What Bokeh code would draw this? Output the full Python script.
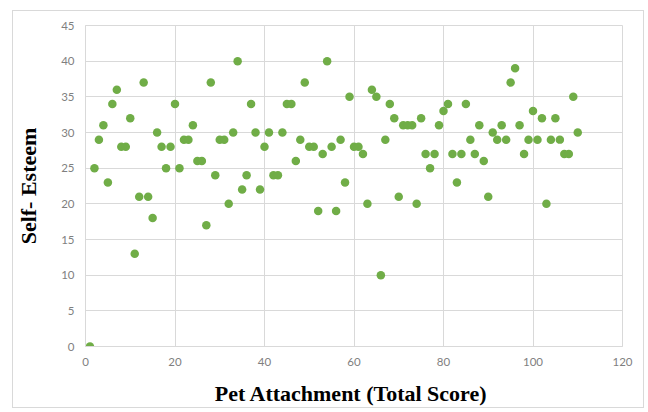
from bokeh.plotting import figure
from bokeh.models import FixedTicker, Range1d
from bokeh.embed import file_html
from bokeh.resources import INLINE

pet_attachment = [
    1, 2, 3, 4, 5, 6, 7, 8, 9, 10,
    11, 12, 13, 14, 15, 16, 17, 18, 19, 20,
    21, 22, 23, 24, 25, 26, 27, 28, 29, 30,
    31, 32, 33, 34, 35, 36, 37, 38, 39, 40,
    41, 42, 43, 44, 45, 46, 47, 48, 49, 50,
    51, 52, 53, 54, 55, 56, 57, 58, 59, 60,
    61, 62, 63, 64, 65, 66, 67, 68, 69, 70,
    71, 72, 73, 74, 75, 76, 77, 78, 79, 80,
    81, 82, 83, 84, 85, 86, 87, 88, 89, 90,
    91, 92, 93, 94, 95, 96, 97, 98, 99, 100,
    101, 102, 103, 104, 105, 106, 107, 108, 109, 110,
]
self_esteem = [
    0, 25, 29, 31, 23, 34, 36, 28, 28, 32,
    13, 21, 37, 21, 18, 30, 28, 25, 28, 34,
    25, 29, 29, 31, 26, 26, 17, 37, 24, 29,
    29, 20, 30, 40, 22, 24, 34, 30, 22, 28,
    30, 24, 24, 30, 34, 34, 26, 29, 37, 28,
    28, 19, 27, 40, 28, 19, 29, 23, 35, 28,
    28, 27, 20, 36, 35, 10, 29, 34, 32, 21,
    31, 31, 31, 20, 32, 27, 25, 27, 31, 33,
    34, 27, 23, 27, 34, 29, 27, 31, 26, 21,
    30, 29, 31, 29, 37, 39, 31, 27, 29, 33,
    29, 32, 20, 29, 32, 29, 27, 27, 35, 30,
]
x_ticks = [0, 20, 40, 60, 80, 100, 120]
y_ticks = [0, 5, 10, 15, 20, 25, 30, 35, 40, 45]

GRID = "#d9d9d9"
LABEL = "#7f7f7f"

p = figure(
    width=632, height=398,
    output_backend="svg", toolbar_location=None,
    x_range=Range1d(0, 120), y_range=Range1d(0, 45),
    min_border_left=71, min_border_right=23,
    min_border_top=14, min_border_bottom=63,
)
p.margin = (10, 0, 0, 12)
p.styles = {"border": "1px solid #d9d9d9"}
p.outline_line_color = GRID
p.background_fill_color = "white"
p.border_fill_color = "white"

p.scatter(pet_attachment, self_esteem, size=8.5, fill_color="#70ad47",
          line_color=None)

for ax in (p.xaxis[0], p.yaxis[0]):
    ax.major_tick_out = 0
    ax.major_tick_in = 0
    ax.minor_tick_out = 0
    ax.minor_tick_in = 0
    ax.axis_line_color = GRID
    ax.major_label_text_color = LABEL
    ax.major_label_text_font = "Lato"
    ax.major_label_text_font_size = "11.5px"
    ax.axis_label_text_font = "Liberation Serif"
    ax.axis_label_text_font_style = "bold"
    ax.axis_label_text_font_size = "22px"
    ax.axis_label_text_color = "black"

p.xaxis.ticker = FixedTicker(ticks=x_ticks)
p.yaxis.ticker = FixedTicker(ticks=y_ticks)
p.xaxis.axis_label = "Pet Attachment  (Total Score)"
p.yaxis.axis_label = "Self- Esteem"
p.xaxis.major_label_standoff = 11
p.yaxis.major_label_standoff = 11
p.xaxis.axis_label_standoff = 12
p.yaxis.axis_label_standoff = 17

p.xgrid.ticker = FixedTicker(ticks=x_ticks)
p.ygrid.ticker = FixedTicker(ticks=y_ticks)
p.grid.grid_line_color = GRID
p.grid.grid_line_width = 1

open("out.html", "w").write(file_html(p, INLINE))
